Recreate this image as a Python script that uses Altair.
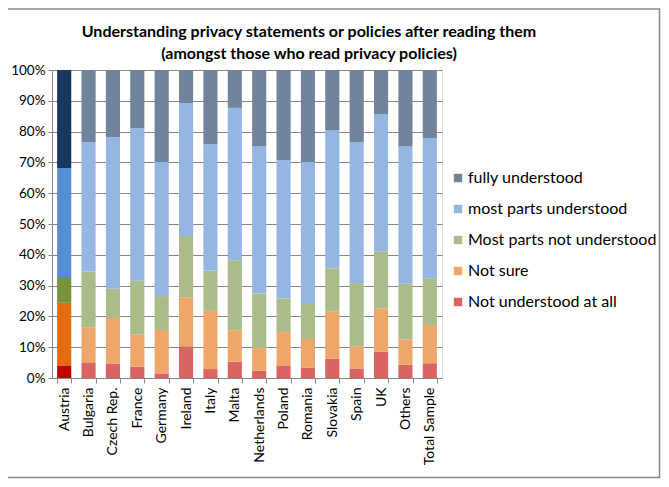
import altair as alt
import pandas as pd

countries = ["Austria", "Bulgaria", "Czech Rep.", "France", "Germany", "Ireland", "Italy",
             "Malta", "Netherlands", "Poland", "Romania", "Slovakia", "Spain", "UK",
             "Others", "Total Sample"]
series = ["Not understood at all", "Not sure", "Most parts not understood",
          "most parts understood", "fully understood"]

not_at_all = [4.1, 4.9, 4.7, 3.7, 1.5, 10.3, 2.9, 5.3, 2.4, 4.1, 3.4, 6.3, 3.1, 8.6, 4.3, 4.8]
not_sure = [20.3, 11.6, 14.8, 10.5, 14.1, 15.9, 18.9, 10.2, 7.3, 10.8, 9.3, 15.2, 7.2, 14.0, 8.2, 12.4]
most_not = [8.1, 18.1, 9.5, 17.4, 11.0, 19.9, 13.1, 22.7, 17.7, 10.9, 11.3, 14.1, 20.5, 18.4, 18.1, 15.2]
most_und = [35.7, 42.0, 49.2, 49.5, 43.5, 43.2, 41.0, 49.5, 47.8, 44.9, 46.1, 44.8, 45.8, 44.7, 44.6, 45.5]
fully = [31.8, 23.4, 21.8, 18.9, 29.9, 10.7, 24.1, 12.3, 24.8, 29.3, 29.9, 19.6, 23.4, 14.3, 24.8, 22.1]

legend_order = list(reversed(series))
normal_colors = ["#72839C", "#95B5E2", "#A9BC89", "#EFA66A", "#DA6462"]
austria_colors = ["#17375E", "#558ED5", "#77933C", "#E46C0A", "#C00000"]

rows = []
for s_i, (name, vals) in enumerate(zip(series, [not_at_all, not_sure, most_not, most_und, fully])):
    for c, v in zip(countries, vals):
        rows.append({"country": c, "series": name, "value": v, "ord": s_i})
df = pd.DataFrame(rows)

FONT = "Lato"

x_enc = alt.X("country:N", sort=countries,
              scale=alt.Scale(paddingInner=0.42, paddingOuter=0.21),
              axis=alt.Axis(title=None, labelAngle=270, labelFontSize=14, labelColor="#000000",
                            labelFont=FONT, tickBand="extent", domainColor="#868686",
                            tickColor="#868686", tickSize=5, labelPadding=4, labelAlign="right",
                            labelBaseline="middle"))
y_enc = alt.Y("value:Q", stack="zero", scale=alt.Scale(domain=[0, 100], nice=False),
              axis=alt.Axis(title=None, values=list(range(0, 101, 10)),
                            labelExpr="datum.value + '%'", grid=True, gridColor="#868686",
                            domainColor="#868686", tickColor="#868686", tickSize=4,
                            labelFontSize=13.5, labelColor="#000000", labelFont=FONT,
                            labelPadding=3))

base = alt.Chart(df)

others = base.transform_filter(alt.datum.country != "Austria").mark_bar().encode(
    x=x_enc, y=y_enc,
    color=alt.Color("series:N", scale=alt.Scale(domain=legend_order, range=normal_colors),
                    legend=alt.Legend(title=None, orient="none", legendX=398, legendY=100,
                                      symbolType="square", symbolSize=70, symbolStrokeWidth=0,
                                      labelFontSize=16, labelFont=FONT, labelColor="#000000",
                                      rowPadding=15, labelOffset=2, labelLimit=300)),
    order=alt.Order("ord:Q", sort="ascending"),
)

austria = base.transform_filter(alt.datum.country == "Austria").mark_bar().encode(
    x=x_enc, y=y_enc,
    color=alt.Color("series:N", scale=alt.Scale(domain=legend_order, range=austria_colors),
                    legend=None),
    order=alt.Order("ord:Q", sort="ascending"),
)

border = alt.Chart(pd.DataFrame({"a": [0]})).mark_rect(
    fill=None, stroke="#898989", strokeWidth=1.5, clip=False
).encode(x=alt.value(-60), x2=alt.value(607.5), y=alt.value(-61), y2=alt.value(407.5))

chart = alt.layer(border, others, austria).resolve_scale(color="independent").properties(
    width=390, height=308,
    autosize=alt.AutoSizeParams(type="none"),
    padding={"left": 44, "top": 62, "right": 219, "bottom": 101},
    title=alt.TitleParams(
        ["Understanding privacy statements or policies after reading them",
         "(amongst those who read privacy policies)"],
        font=FONT, fontSize=16, fontWeight="bold", color="#000000", anchor="middle",
        dx=62, offset=0, dy=54, lineHeight=22),
).configure_view(stroke=None).configure(background="white")

chart.save("out.html", embed_options={"renderer": "svg", "actions": False})
